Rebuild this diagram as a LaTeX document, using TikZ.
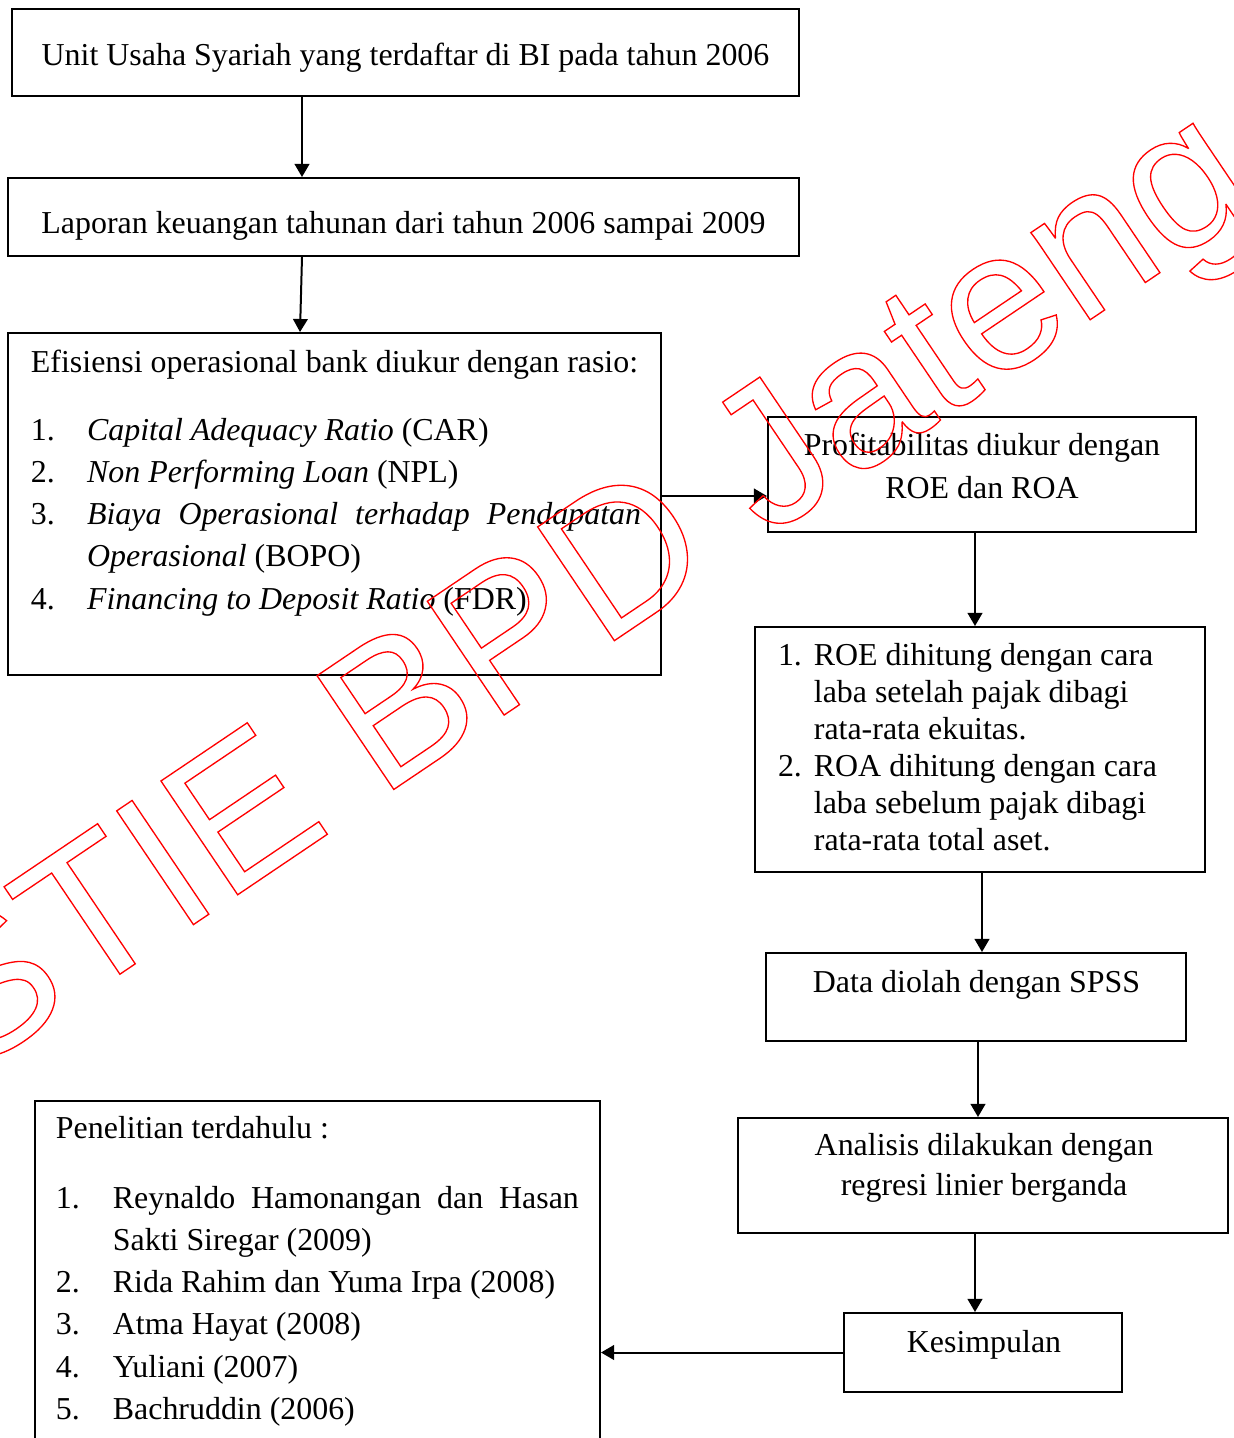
\documentclass[tikz,border=0pt]{standalone}
\usepackage{fontspec}
\setmainfont{Liberation Serif}
\newfontfamily\wmfont{Liberation Sans}
\usetikzlibrary{calc,arrows.meta}

\newcommand{\nmr}[2]{\makebox[#1][l]{#2}}

\begin{document}
\begin{tikzpicture}[
		x=0.376pt,y=-0.376pt,
		line width=0.75pt,
		>={Triangle[length=4.9pt,width=5.5pt]},
		kotak/.style={draw,inner sep=0pt},
		ukuran/.style 2 args={minimum width=#1*0.376pt,minimum height=#2*0.376pt},
		teks/.style={inner sep=0pt,align=left,font=\fontsize{12}{15.8}\selectfont},
		tengah/.style={teks,align=center,anchor=base},
		daftar/.style={teks,anchor=base west}
		]
		\useasboundingbox (0,0) rectangle (1234,1438);
		
		\node[kotak,ukuran={787}{87}](unit) at (405.5,52.5){};
		\node[kotak,ukuran={791}{78}](laporan) at (403.5,217){};
		\node[kotak,ukuran={653}{342}](rasio) at (334.5,504){};
		\node[kotak,ukuran={428}{115}](profit) at (982,474.5){};
		\node[kotak,ukuran={450}{245}](hitung) at (980,749.5){};
		\node[kotak,ukuran={420}{88}](spss) at (976,997){};
		\node[kotak,ukuran={490}{115}](analisis) at (983,1175.5){};
		\node[kotak,ukuran={278}{79}](simpul) at (983,1352.5){};
		\node[kotak,ukuran={565}{349}](dahulu) at (317.5,1275.5){};
		
		% base of a multi-line text = its last line
		\node[tengah](unit-t) at (405.5,65){Unit Usaha Syariah yang terdaftar di BI pada tahun 2006};
		\node[tengah](laporan-t) at (403.5,233){Laporan keuangan tahunan dari tahun 2006 sampai 2009};
		\node[daftar](rasio-t) at (30,609){Efisiensi operasional bank diukur dengan rasio:\\[9.8pt]
			\nmr{21.1pt}{1.}\textit{Capital Adequacy Ratio} (CAR)\\
			\nmr{21.1pt}{2.}\textit{Non Performing Loan} (NPL)\\
			\nmr{21.1pt}{3.}\makebox[208.3pt][s]{\textit{Biaya Operasional terhadap Pendapatan}}\\
			\hspace*{21.1pt}\textit{Operasional} (BOPO)\\
			\nmr{21.1pt}{4.}\textit{Financing to Deposit Ratio} (FDR)};
		\node[tengah](profit-t) at (982,498){Profitabilitas diukur dengan\\ROE dan ROA};
		\node[daftar,font=\fontsize{12}{13.9}\selectfont](hitung-t) at (777,850){\nmr{13.5pt}{1.}ROE dihitung dengan cara\\
			\hspace*{13.5pt}laba setelah pajak dibagi\\
			\hspace*{13.5pt}rata-rata ekuitas.\\
			\nmr{13.5pt}{2.}ROA dihitung dengan cara\\
			\hspace*{13.5pt}laba sebelum pajak dibagi\\
			\hspace*{13.5pt}rata-rata total aset.};
		\node[tengah](spss-t) at (976.5,992){Data diolah dengan SPSS};
		\node[tengah,font=\fontsize{12}{14.7}\selectfont](analisis-t) at (984,1195){Analisis dilakukan dengan\\regresi linier berganda};
		\node[tengah](simpul-t) at (984,1352){Kesimpulan};
		\node[daftar,font=\fontsize{12}{15.9}\selectfont](dahulu-t) at (55,1419.5){Penelitian terdahulu :\\[10.1pt]
			\nmr{21.4pt}{1.}\makebox[175.2pt][s]{Reynaldo Hamonangan dan Hasan}\\
			\hspace*{21.4pt}Sakti Siregar (2009)\\
			\nmr{21.4pt}{2.}Rida Rahim dan Yuma Irpa (2008)\\
			\nmr{21.4pt}{3.}Atma Hayat (2008)\\
			\nmr{21.4pt}{4.}Yuliani (2007)\\
			\nmr{21.4pt}{5.}Bachruddin (2006)};
		
		\draw[->] ($(unit.south west)+(291,0)$) -- ($(laporan.north west)+(295,0)$);
		\draw[->] ($(laporan.south west)+(295,0)$) -- ($(rasio.north west)+(293,0)$);
		\draw[->] ($(rasio.north east)+(0,164)$) -- ($(profit.north west)+(0,80)$);
		\draw[->] ($(profit.south)+(-7,0)$) -- ($(hitung.north)+(-5,0)$);
		\draw[->] ($(hitung.south)+(2,0)$) -- ($(spss.north)+(6,0)$);
		\draw[->] ($(spss.south)+(2,0)$) -- ($(analisis.north)+(-5,0)$);
		\draw[->] ($(analisis.south)+(-8,0)$) -- ($(simpul.north)+(-8,0)$);
		\draw[->] (simpul.west) -- (simpul.west -| dahulu.east);
		
		% watermark
		\node[anchor=base west,rotate=34,inner sep=0pt,text=red,font=\wmfont\fontsize{75}{80}\selectfont](stie) at (-34,1078){\special{pdf:literal direct 1 Tr 0.5 w}STIE BPD Jateng\special{pdf:literal direct 0 Tr}};
		
\end{tikzpicture}
\end{document}
